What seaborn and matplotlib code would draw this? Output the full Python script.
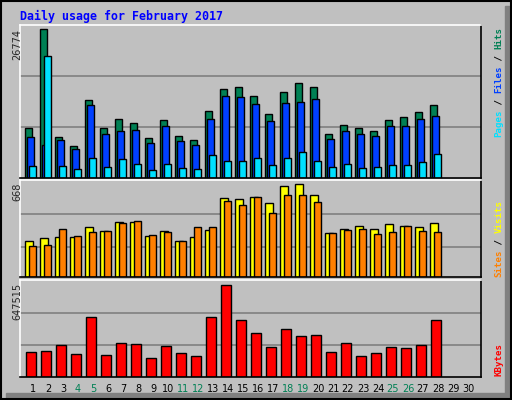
import matplotlib
matplotlib.use("Agg")
import matplotlib.pyplot as plt
import seaborn as sns
from matplotlib.patches import Rectangle

days = list(range(1, 32))
hits = [8965, 26774, 7329, 5694, 14052, 8965, 10600, 9873, 7147, 10418, 7511, 6784, 12053, 16051,
        16414, 14779, 11508, 15506, 17141, 16414, 7874, 9509, 8965, 8419, 10418, 10963, 11872, 13144]
files = [7329, 5875, 6784, 5148, 13144, 7874, 8419, 8601, 6239, 9328, 6602, 5875, 10600, 14779,
         14597, 13325, 10236, 13507, 13689, 14234, 6966, 8419, 7874, 7511, 9328, 9328, 10600, 11145]
pages = [2241, 22047, 2241, 1696, 3513, 2059, 3331, 2605, 1514, 2605, 1878, 1696, 4058, 3150,
         3150, 3513, 2423, 3513, 4603, 3150, 2059, 2605, 1878, 2059, 2423, 2423, 2968, 4240]
visits = [261, 283, 290, 290, 363, 334, 392, 392, 298, 334, 261, 290, 341, 566,
          559, 574, 530, 653, 668, 588, 319, 348, 370, 348, 378, 370, 363, 385]
sites = [225, 232, 348, 298, 327, 334, 385, 399, 305, 327, 261, 356, 363, 545,
         515, 574, 457, 588, 588, 537, 319, 341, 348, 312, 327, 370, 334, 327]
kbytes = [172500, 179600, 222100, 158300, 420600, 151200, 236300, 229200, 130000, 215000, 165400,
          144100, 420600, 647515, 399300, 307200, 207900, 335500, 285900, 293000, 172500, 236300,
          144100, 165400, 207900, 200900, 222100, 399300]
weekend = [4, 5, 11, 12, 18, 19, 25, 26]
title = "Daily usage for February 2017"

sns.set_style("white")
BG = "#C0C0C0"
W, H = 512, 400
fig = plt.figure(figsize=(5.12, 4.0), dpi=100, facecolor=BG)

def ax_px(x0, y0, x1, y1):
    return fig.add_axes([x0 / W, 1 - y1 / H, (x1 - x0) / W, (y1 - y0) / H])

xl = (20 - 18) / 15, (481 - 18) / 15
n = len(hits)
x = list(range(1, n + 1))

def style(ax, top, frac, grid):
    ax.set_facecolor(BG)
    ax.set_xlim(*xl)
    ax.set_ylim(0, top / frac)
    for g in grid:
        ax.axhline(g * top / frac, color="#808080", lw=1.2, zorder=0)
    ax.set_yticks([])
    for s in ax.spines.values():
        s.set_color("black"); s.set_linewidth(1.2)
    ax.spines["top"].set_color("white"); ax.spines["left"].set_color("white")

ax1 = ax_px(20, 25, 481, 178)
style(ax1, max(hits), 0.972, [1/3, 2/3])
kw = dict(edgecolor="black", linewidth=1, align="edge")
ax1.bar([d - 0.51 for d in x], hits, 0.47, color="#008054", **kw)
ax1.bar([d - 0.38 for d in x], files, 0.47, color="#0040FF", **kw)
ax1.bar([d - 0.25 for d in x], pages, 0.47, color="#00E0FF", **kw)
ax1.set_xticks([])

ax2 = ax_px(20, 180, 481, 277)
style(ax2, max(visits), 0.958, [0.31, 0.65])
ax2.bar([d - 0.51 for d in x], visits, 0.53, color="#FFFF00", **kw)
ax2.bar([d - 0.25 for d in x], sites, 0.47, color="#FF8000", **kw)
ax2.set_xticks([])

ax3 = ax_px(20, 280, 481, 377)
style(ax3, max(kbytes), 0.95, [0.33, 0.66])
ax3.bar([d - 0.45 for d in x], kbytes, 0.67, color="#FF0000", **kw)
ax3.set_xlim(xl[0], 31.2)
ax3.set_xticks(days)
ax3.set_xticklabels([str(d) for d in days], fontsize=7, fontfamily="DejaVu Sans")
for t, d in zip(ax3.get_xticklabels(), days):
    t.set_color("#008054" if d in weekend else "black")
ax3.tick_params(axis="x", length=0, pad=5)
ax3.set_xlim(*xl)
for t in ax3.get_xticklabels():
    t.set_clip_on(False)

fig.text(20 / W, 1 - 16 / H, title, color="#0000FF", fontsize=8.4, fontweight="bold",
         fontfamily="DejaVu Sans Mono", va="center", ha="left")

for lab, ytop in [(f"{max(hits)}", 29), (f"{max(visits)}", 183), (f"{max(kbytes)}", 283)]:
    fig.text(17 / W, 1 - ytop / H, lab, rotation=90, va="top", ha="center", fontsize=7,
             fontfamily="DejaVu Sans")

def side(pieces, ybot):
    pos = 0
    cw = 5.5
    for txt, col in pieces:
        fig.text(499 / W, 1 - (ybot - pos * cw) / H, txt, rotation=90, va="bottom", ha="center",
                 color=col, fontsize=6.6, fontfamily="DejaVu Sans Mono", fontweight="bold")
        pos += len(txt)

side([("Pages", "#00E0FF"), (" / ", "black"), ("Files", "#0040FF"), (" / ", "black"),
      ("Hits", "#008054")], 137)
side([("Sites", "#FF8000"), (" / ", "black"), ("Visits", "#FFFF00")], 277)
side([("KBytes", "#FF0000")], 376)

fig.patches.append(Rectangle((505 / W, 0), 7 / W, 1 - 6 / H, transform=fig.transFigure,
                             color="#808080", zorder=-1))
fig.patches.append(Rectangle((6 / W, 0), 1, 7 / H, transform=fig.transFigure,
                             color="#808080", zorder=-1))
fig.patches.append(Rectangle((1 / W, 1 / H), 1 - 2 / W, 1 - 2 / H, transform=fig.transFigure,
                             fill=False, edgecolor="black", lw=1.5))
fig.savefig("out.png", dpi=100, facecolor=BG)
